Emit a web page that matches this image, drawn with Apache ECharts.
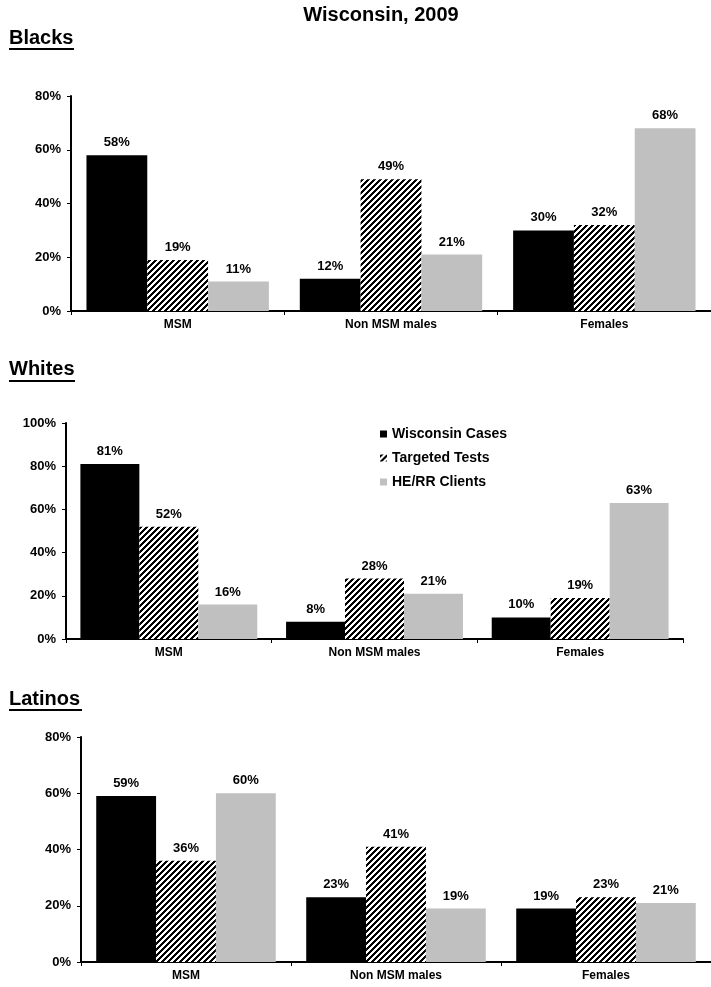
<!DOCTYPE html>
<html><head><meta charset="utf-8">
<script src="https://cdn.jsdelivr.net/npm/echarts@6/dist/echarts.min.js"></script>
<style>html,body{margin:0;padding:0;background:#fff}#c{width:711px;height:987px}</style>
</head><body><div id="c"></div>
<script>
// ---- data ----
const categories = ['MSM', 'Non MSM males', 'Females'];
const seriesNames = ['Wisconsin Cases', 'Targeted Tests', 'HE/RR Clients'];
const mainTitle = 'Wisconsin, 2009';
const panelTitles = ['Blacks', 'Whites', 'Latinos'];

const blacksCases   = [58, 12, 30];
const blacksTests   = [19, 49, 32];
const blacksClients = [11, 21, 68];

const whitesCases   = [81, 8, 10];
const whitesTests   = [52, 28, 19];
const whitesClients = [16, 21, 63];

const latinosCases   = [59, 23, 19];
const latinosTests   = [36, 41, 23];
const latinosClients = [60, 19, 21];

const yMaxes = [80, 100, 80];
const yInterval = 20;

// ---- styling ----
const FONT = '"Liberation Sans", Arial, Helvetica, sans-serif';

function stripeCanvas() {
  const P = 6;
  const c = document.createElement('canvas');
  c.width = P; c.height = P;
  const g = c.getContext('2d');
  g.fillStyle = '#ffffff'; g.fillRect(0, 0, P, P);
  g.fillStyle = '#000000';
  for (let x = 0; x < P; x++) {
    for (let y = 0; y < P; y++) {
      if ((x + y) % P < 3) g.fillRect(x, y, 1, 1);
    }
  }
  return c;
}
const stripe = { image: stripeCanvas(), repeat: 'repeat' };
const colors = ['#000000', stripe, '#c0c0c0'];

const panels = [
  [blacksCases, blacksTests, blacksClients],
  [whitesCases, whitesTests, whitesClients],
  [latinosCases, latinosTests, latinosClients]
];

const grids = [
  { left: 71, top: 96, width: 643, height: 215 },
  { left: 66, top: 423, width: 617, height: 216 },
  { left: 81, top: 737, width: 643, height: 225 }
];
const catGaps = ['14.5%', '14%', '14.5%'];

const xAxes = grids.map((g, i) => ({
  type: 'category', gridIndex: i, data: categories,
  axisLine: { lineStyle: { color: '#000', width: 2 } },
  axisTick: { show: true, length: 4, lineStyle: { color: '#000', width: 1 } },
  axisLabel: { color: '#000', fontFamily: FONT, fontWeight: 'bold', fontSize: 12, margin: 8 }
}));
const yAxes = grids.map((g, i) => ({
  type: 'value', gridIndex: i, min: 0, max: yMaxes[i], interval: yInterval,
  splitLine: { show: false },
  axisLine: { show: true, lineStyle: { color: '#000', width: 2 } },
  axisTick: { show: true, length: 4, lineStyle: { color: '#000', width: 1 } },
  axisLabel: { color: '#000', fontFamily: FONT, fontWeight: 'bold', fontSize: 13, margin: 10, formatter: '{value}%' }
}));

const series = [];
panels.forEach((vals, p) => {
  vals.forEach((arr, s) => {
    series.push({
      type: 'bar', name: seriesNames[s], xAxisIndex: p, yAxisIndex: p,
      data: arr, barGap: '0%', barCategoryGap: catGaps[p],
      itemStyle: { color: colors[s] },
      label: { show: true, position: 'top', distance: 6, formatter: '{c}%',
               color: '#000', fontFamily: FONT, fontWeight: 'bold', fontSize: 13 }
    });
  });
});

const titleY = [38, 369, 699];
const underlineY = [49, 381, 710];
const underlineX2 = [74, 75, 82];
const graphic = [
  { type: 'text', x: 381, y: 15, style: { text: mainTitle, fontFamily: FONT, fontWeight: 'bold', fontSize: 20, fill: '#000', align: 'center', verticalAlign: 'middle' } }
];
panelTitles.forEach((t, i) => {
  graphic.push({ type: 'text', x: 9, y: titleY[i], style: { text: t, fontFamily: FONT, fontWeight: 'bold', fontSize: 20, fill: '#000', align: 'left', verticalAlign: 'middle' } });
  graphic.push({ type: 'line', shape: { x1: 9, y1: underlineY[i], x2: underlineX2[i], y2: underlineY[i] }, style: { stroke: '#000', lineWidth: 2 } });
});

const chart = echarts.init(document.getElementById('c'), null, { renderer: 'canvas' });
chart.setOption({
  animation: false,
  backgroundColor: '#ffffff',
  grid: grids,
  xAxis: xAxes,
  yAxis: yAxes,
  legend: {
    data: seriesNames, orient: 'vertical', left: 375, top: 422,
    icon: 'rect', itemWidth: 7, itemHeight: 7, itemGap: 10,
    textStyle: { color: '#000', fontFamily: FONT, fontWeight: 'bold', fontSize: 14, lineHeight: 14 }
  },
  series: series,
  graphic: graphic
});
</script>
</body></html>
